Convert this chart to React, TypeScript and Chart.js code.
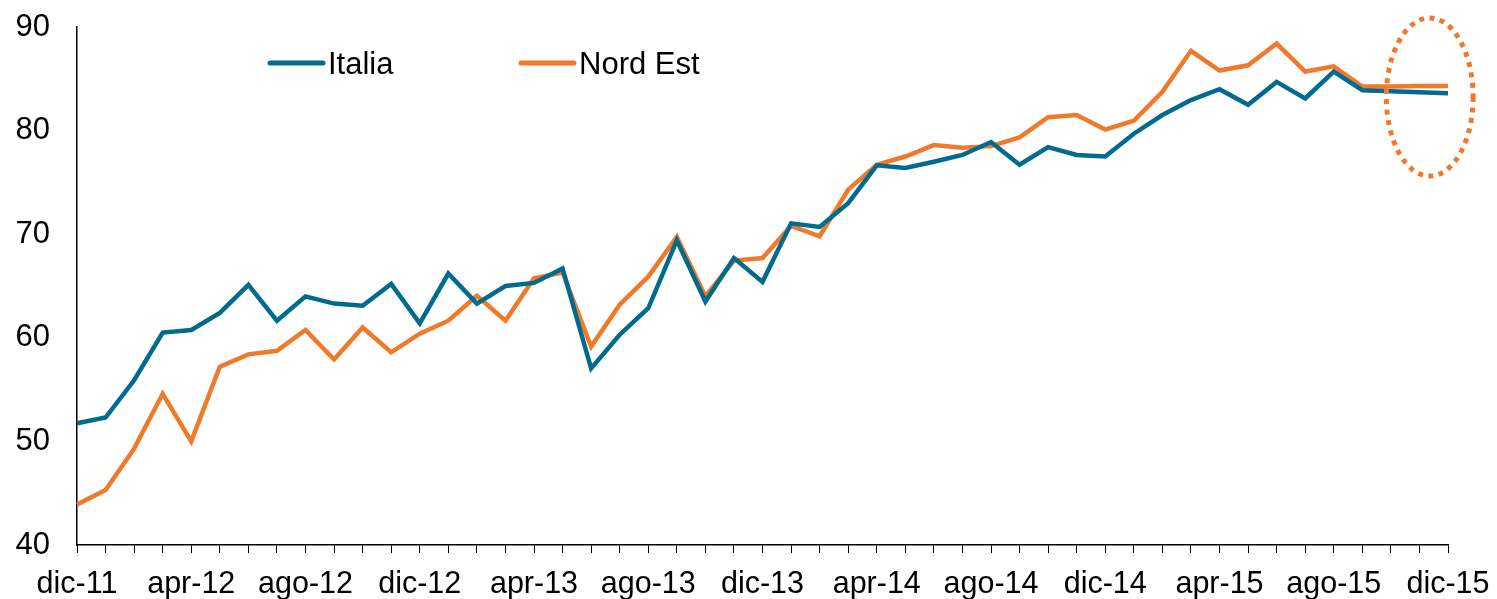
import React, { useEffect, useRef } from "react";
import { Chart, registerables } from "chart.js";

Chart.register(...registerables);

const months: string[] = [
  "dic-11",
  "gen-12", "feb-12", "mar-12", "apr-12", "mag-12", "giu-12", "lug-12", "ago-12", "set-12", "ott-12", "nov-12", "dic-12",
  "gen-13", "feb-13", "mar-13", "apr-13", "mag-13", "giu-13", "lug-13", "ago-13", "set-13", "ott-13", "nov-13", "dic-13",
  "gen-14", "feb-14", "mar-14", "apr-14", "mag-14", "giu-14", "lug-14", "ago-14", "set-14", "ott-14", "nov-14", "dic-14",
  "gen-15", "feb-15", "mar-15", "apr-15", "mag-15", "giu-15", "lug-15", "ago-15", "set-15", "ott-15", "nov-15", "dic-15",
];

const italia: number[] = [
  51.75, 52.3, 55.9, 60.5, 60.75, 62.4, 65.1, 61.65, 64.0, 63.3, 63.1, 65.2, 61.4,
  66.2, 63.3, 65.0, 65.3, 66.7, 57.05, 60.3, 62.85, 69.4, 63.5, 67.7, 65.4,
  71.05, 70.7, 73.0, 76.65, 76.4, 77.0, 77.65, 78.9, 76.7, 78.4, 77.65, 77.5,
  79.7, 81.5, 82.95, 84.0, 82.5, 84.7, 83.1, 85.7, 83.9, 83.8, 83.7, 83.6,
];

const nordEst: number[] = [
  43.9, 45.3, 49.3, 54.6, 50.0, 57.2, 58.4, 58.75, 60.75, 57.9, 61.0, 58.6, 60.4,
  61.65, 64.05, 61.65, 65.75, 66.3, 59.15, 63.2, 65.9, 69.75, 64.0, 67.45, 67.7,
  70.8, 69.8, 74.3, 76.7, 77.5, 78.6, 78.35, 78.5, 79.35, 81.3, 81.5, 80.1,
  80.95, 83.75, 87.7, 85.8, 86.3, 88.4, 85.7, 86.2, 84.25, 84.25, 84.3, 84.3,
];

const yTicks: number[] = [40, 50, 60, 70, 80, 90];
const seriesNames: string[] = ["Italia", "Nord Est"];
const seriesColors: string[] = ["#006A8F", "#F07A2A"];

const FONT = "'Liberation Sans', Arial, sans-serif";

const overlayPlugin = {
  id: "overlay",
  afterDatasetsDraw(chart: any) {
    const { ctx, chartArea, scales } = chart;
    const xs = scales.x;
    const ys = scales.y;
    // dotted ellipse highlighting the last months
    const step = xs.getPixelForValue(1) - xs.getPixelForValue(0);
    const cx = xs.getPixelForValue(47.36);
    const cy = ys.getPixelForValue(83.24);
    const rx = step * 1.52;
    const ry = (ys.getPixelForValue(75.6) - ys.getPixelForValue(90.86)) / 2;
    ctx.save();
    ctx.strokeStyle = seriesColors[1];
    ctx.lineWidth = 5;
    ctx.setLineDash([5, 5.5]);
    ctx.beginPath();
    ctx.ellipse(cx, cy, rx, ry, 0, 0, Math.PI * 2);
    ctx.stroke();
    ctx.restore();

    // legend
    ctx.save();
    ctx.font = `31px ${FONT}`;
    ctx.textBaseline = "alphabetic";
    ctx.fillStyle = "#000";
    const ly = 63;
    const items = [
      { x: chartArea.left + 192, name: seriesNames[0], color: seriesColors[0] },
      { x: chartArea.left + 443, name: seriesNames[1], color: seriesColors[1] },
    ];
    items.forEach((it) => {
      ctx.strokeStyle = it.color;
      ctx.lineWidth = 5;
      ctx.lineCap = "round";
      ctx.setLineDash([]);
      ctx.beginPath();
      ctx.moveTo(it.x + 1, ly);
      ctx.lineTo(it.x + 54, ly);
      ctx.stroke();
      ctx.fillText(it.name, it.x + 59, ly + 11);
    });
    ctx.restore();
  },
};

export default function App() {
  const ref = useRef<HTMLCanvasElement | null>(null);

  useEffect(() => {
    if (!ref.current) return;
    const chart = new Chart(ref.current, {
      type: "line",
      data: {
        labels: months,
        datasets: [
          {
            label: seriesNames[0],
            data: italia,
            borderColor: seriesColors[0],
            backgroundColor: seriesColors[0],
            borderWidth: 4.5,
            pointRadius: 0,
            tension: 0,
          },
          {
            label: seriesNames[1],
            data: nordEst,
            borderColor: seriesColors[1],
            backgroundColor: seriesColors[1],
            borderWidth: 4.5,
            pointRadius: 0,
            tension: 0,
          },
        ],
      },
      options: {
        animation: false,
        responsive: true,
        maintainAspectRatio: false,
        layout: { padding: { top: 27, right: 49, left: 0, bottom: 0 } },
        plugins: {
          legend: { display: false },
          tooltip: { enabled: false },
        },
        scales: {
          x: {
            offset: false,
            border: { display: true, color: "#000", width: 1.5 },
            grid: {
              display: true,
              drawOnChartArea: false,
              drawTicks: true,
              tickLength: 8,
              color: "#000",
              lineWidth: 1,
            },
            afterFit: (s: any) => {
              s.height = 54;
              s.paddingLeft = 0;
              s.paddingRight = 0;
            },
            ticks: {
              autoSkip: false,
              maxRotation: 0,
              minRotation: 0,
              color: "#000",
              padding: 13,
              font: { family: FONT, size: 30.5 },
              callback: (_v: any, i: number) => (i % 4 === 0 ? months[i] : ""),
            },
          },
          y: {
            min: yTicks[0],
            max: yTicks[yTicks.length - 1],
            border: { display: true, color: "#000", width: 1.5 },
            grid: { display: false, drawTicks: false },
            afterBuildTicks: (axis: any) => {
              axis.ticks = yTicks.map((v) => ({ value: v }));
            },
            afterFit: (s: any) => {
              s.width = 77;
              s.paddingTop = 0;
              s.paddingBottom = 0;
            },
            ticks: {
              color: "#000",
              padding: 27,
              font: { family: FONT, size: 31 },
            },
          },
        },
      },
      plugins: [overlayPlugin],
    });
    return () => chart.destroy();
  }, []);

  return (
    <div style={{ position: "fixed", left: 0, top: 0, width: "100vw", height: "100vh", background: "#fff" }}>
      <canvas ref={ref} />
    </div>
  );
}
